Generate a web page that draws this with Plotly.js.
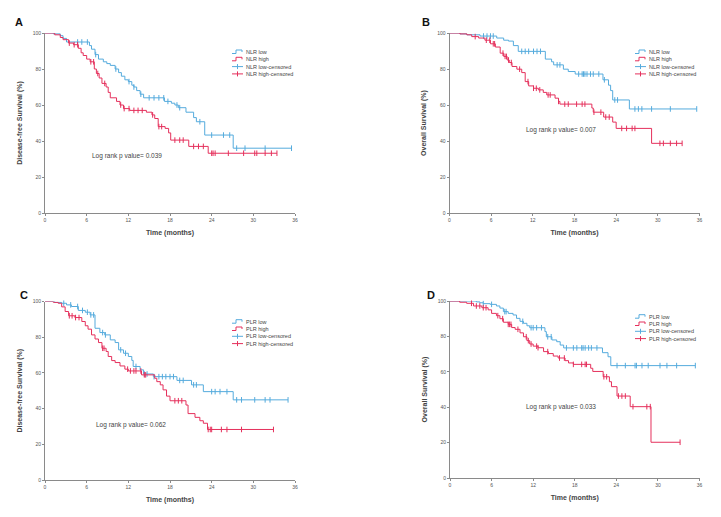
<!DOCTYPE html>
<html><head><meta charset="utf-8">
<script src="https://cdn.plot.ly/plotly-3.0.1.min.js"></script>
<style>html,body{margin:0;padding:0;background:#fff}#chart{width:721px;height:517px}</style>
</head><body><div id="chart"></div>
<script>
// ---------- DATA (months, survival %) ----------
const xTicks = [0, 6, 12, 18, 24, 30, 36];
const yTicks = [0, 20, 40, 60, 80, 100];

// Panel A: Disease-free survival by NLR
const A_low_t  = [0, 1.2, 2.2, 2.6, 3.1, 6.4, 6.7, 7.2, 7.7, 8.4, 8.9, 9.4, 10.1, 10.6, 11.0, 11.5, 12.0, 12.5, 12.8, 13.2, 13.7, 14.2, 17.2, 18.2, 18.7, 19.2, 20.3, 21.4, 21.8, 23.0, 27.1, 35.5];
const A_low_s  = [100, 99.5, 98.5, 97, 95, 93, 91, 88, 85.5, 84, 83, 82, 80, 78, 76, 74, 73, 71, 70, 68, 66, 64, 62, 61, 60, 58.5, 56, 53, 50.7, 43.3, 36, 36];
const A_low_c  = [4.7, 5.3, 6.1, 7.3, 10.2, 12.1, 12.8, 13.8, 15.0, 15.7, 16.4, 17.1, 17.7, 19.0, 19.4, 22.3, 24.0, 25.7, 26.6, 27.6, 28.8, 31.7, 35.5];
const A_high_t = [0, 1.4, 2.2, 2.6, 3.4, 4.1, 4.8, 5.2, 5.5, 6.0, 6.5, 7.1, 7.4, 7.8, 8.2, 8.8, 9.1, 9.4, 10.3, 10.8, 11.3, 12.2, 14.6, 15.4, 15.8, 16.3, 17.3, 17.8, 18.1, 20.7, 23.5, 33.4];
const A_high_s = [100, 99, 97.5, 96.3, 94.4, 93.5, 91.5, 89, 87.5, 85.5, 84, 80, 77.5, 75, 72, 70, 67, 64, 62, 60, 58, 57, 56, 54.5, 52.5, 48, 47, 44.5, 40.5, 37, 33.2, 33.2];
const A_high_c = [3.5, 4.2, 4.7, 6.6, 7.0, 7.6, 8.6, 10.9, 11.4, 12.1, 12.8, 13.4, 14.0, 15.5, 16.4, 16.8, 18.7, 19.4, 19.9, 21.4, 22.1, 22.8, 24.0, 24.2, 24.5, 26.4, 28.6, 30.2, 30.5, 31.7, 32.6, 33.4];

// Panel B: Overall survival by NLR
const B_low_t  = [0, 1.5, 2.5, 4.4, 6.8, 7.8, 8.5, 9.2, 9.9, 13.8, 14.7, 15.0, 16.4, 17.1, 18.1, 22.1, 22.9, 23.2, 23.5, 25.9, 35.6];
const B_low_s  = [100, 99.5, 99, 98.3, 97.2, 96, 95.5, 93, 89.8, 85.5, 84, 82.3, 79.9, 78.6, 77.2, 74, 71, 68, 62.8, 57.8, 57.8];
const B_low_c  = [4.9, 5.4, 5.9, 6.3, 10.4, 10.9, 11.4, 12.1, 12.6, 13.1, 15.5, 15.9, 18.6, 19.1, 19.3, 19.5, 19.8, 20.3, 20.7, 21.5, 22.3, 23.8, 24.2, 26.7, 27.2, 27.7, 29.1, 31.8, 35.6];
const B_high_t = [0, 1.5, 2.5, 3.2, 4.2, 5.1, 5.9, 6.6, 7.3, 7.8, 8.3, 8.6, 9.0, 9.7, 10.4, 10.9, 11.4, 12.1, 12.8, 13.5, 14.0, 15.2, 15.7, 15.9, 20.5, 20.7, 22.2, 23.5, 24.0, 29.1, 33.5];
const B_high_s = [100, 99.5, 99, 98, 97.2, 96, 94, 92.2, 88.8, 87, 85, 83.6, 81.4, 79.9, 78, 73, 70.6, 69.3, 68.4, 67, 65.6, 63.8, 62, 60.5, 58.3, 56, 53.3, 50.5, 47, 38.7, 38.7];
const B_high_c = [3.7, 5.3, 5.8, 6.3, 6.5, 7.7, 8.0, 8.2, 8.5, 8.9, 10.1, 11.3, 12.1, 12.5, 13.0, 14.2, 14.5, 15.7, 16.6, 17.1, 18.3, 19.1, 19.5, 20.8, 21.8, 22.5, 23.0, 24.8, 25.5, 26.3, 26.7, 30.3, 30.8, 31.8, 32.7, 33.5];

// Panel C: Disease-free survival by PLR
const C_low_t  = [0, 1.4, 2.4, 3.1, 3.8, 4.8, 5.8, 6.5, 7.2, 7.9, 8.6, 9.4, 10.1, 10.6, 11.3, 12.0, 12.5, 12.7, 13.7, 14.2, 15.6, 19.0, 21.1, 22.8, 27.1, 35.0];
const C_low_s  = [100, 99.5, 99, 98.1, 97.2, 95, 94, 92.5, 85, 82.6, 81.3, 78.5, 77, 72.9, 71, 69.2, 67, 63.6, 61.7, 59.4, 57.9, 55.8, 53.3, 49.5, 44.9, 44.9];
const C_low_c  = [2.7, 3.7, 4.7, 5.4, 6.1, 6.6, 7.0, 8.3, 8.7, 10.9, 11.6, 13.1, 14.3, 14.7, 15.7, 16.4, 16.9, 17.4, 18.0, 18.5, 19.4, 19.9, 21.4, 21.8, 24.0, 24.5, 25.2, 26.2, 27.6, 28.3, 30.2, 31.7, 32.4, 35.0];
const C_high_t = [0, 1.2, 1.9, 2.4, 2.9, 3.4, 4.3, 5.3, 5.8, 6.2, 6.7, 7.2, 7.7, 8.2, 8.8, 9.1, 9.6, 10.1, 10.8, 11.5, 12.0, 13.9, 15.8, 16.1, 16.6, 17.0, 17.5, 18.0, 20.3, 20.6, 21.6, 22.3, 22.8, 23.4, 32.9];
const C_high_s = [100, 99.5, 99, 97, 94.4, 92, 91, 88.8, 86.4, 84.5, 81.3, 79, 77, 73.8, 72, 69.2, 66.9, 65.8, 63.9, 62.1, 61.1, 58.9, 57, 55.1, 53.3, 50.5, 47, 44.4, 42, 37.2, 35.1, 33.2, 31.8, 28.3, 28.3];
const C_high_c = [3.5, 3.9, 4.4, 4.9, 8.3, 8.5, 11.9, 12.3, 12.8, 13.1, 13.8, 14.3, 14.5, 18.7, 19.2, 19.7, 23.5, 23.8, 24.0, 25.4, 26.2, 28.3, 32.9];

// Panel D: Overall survival by PLR
const D_low_t  = [0, 3.8, 4.3, 4.8, 5.8, 6.7, 7.2, 7.7, 8.4, 9.1, 9.6, 10.1, 10.6, 11.1, 11.5, 13.7, 13.9, 14.7, 15.4, 15.9, 16.4, 22.0, 22.8, 23.2, 35.4];
const D_low_s  = [100, 99.5, 99, 98.5, 98.1, 97.2, 96, 94, 93, 92.1, 90.2, 88.5, 87.4, 86, 84.9, 82.7, 79.8, 78, 77, 75.1, 73.5, 70.8, 68.5, 63.5, 63.5];
const D_low_c  = [4.8, 6.0, 7.9, 8.1, 10.5, 11.7, 12.0, 12.5, 13.2, 14.1, 14.6, 16.8, 17.8, 18.3, 19.0, 19.2, 19.5, 20.0, 20.4, 21.2, 24.1, 25.3, 26.7, 26.9, 27.7, 28.6, 30.3, 31.3, 32.7, 35.4];
const D_high_t = [0, 1.4, 2.4, 3.4, 4.6, 5.5, 6.0, 6.7, 7.2, 7.7, 8.4, 8.9, 9.4, 10.1, 10.6, 11.1, 11.5, 12.0, 12.7, 13.5, 14.2, 14.9, 15.6, 16.6, 17.1, 17.8, 20.3, 20.6, 22.1, 23.0, 23.3, 24.1, 26.0, 29.0, 33.2];
const D_high_s = [100, 99.3, 98.7, 97.2, 96.2, 95, 93, 91.7, 90, 88, 86.8, 85, 84, 82, 79.8, 77.6, 75.7, 74.5, 73.6, 71.4, 70.3, 68.9, 67.8, 66.3, 65, 64.2, 62, 60.2, 57.2, 54.4, 51.6, 46.3, 40.3, 20.2, 20.2];
const D_high_c = [3.1, 3.8, 4.3, 4.8, 5.2, 6.9, 7.6, 8.4, 8.6, 8.8, 9.8, 11.0, 11.3, 11.7, 12.5, 12.7, 14.1, 15.8, 16.5, 17.8, 19.0, 19.5, 19.7, 22.2, 22.6, 24.3, 24.8, 25.3, 26.4, 28.4, 28.9, 33.2];

const panelLetters = ['A', 'B', 'C', 'D'];
const yTitles = ['Disease-free Survival (%)', 'Overall Survival (%)', 'Disease-free Survival (%)', 'Overall Survival (%)'];
const groupNames = ['NLR', 'NLR', 'PLR', 'PLR'];
const pValues = ['0.039', '0.007', '0.062', '0.033'];

// ---------- STYLE / LAYOUT ----------
const W = 721, H = 517;
const BLUE = '#55abdd', RED = '#e5305c';
const FONT = 'Liberation Sans, Arial, Helvetica, sans-serif';
const fx = v => v / W, fy = v => 1 - v / H;

const panels = [
  {low:[A_low_t,A_low_s,A_low_c], high:[A_high_t,A_high_s,A_high_c], xd:[45,295], yd:[33,213], lab:[19,22], pv:[127,156], leg:[232,52]},
  {low:[B_low_t,B_low_s,B_low_c], high:[B_high_t,B_high_s,B_high_c], xd:[449.5,699.5], yd:[33,213], lab:[426,22], pv:[561,130], leg:[635,52]},
  {low:[C_low_t,C_low_s,C_low_c], high:[C_high_t,C_high_s,C_high_c], xd:[45,295], yd:[301.5,480], lab:[24,295], pv:[131,425], leg:[232,321.7]},
  {low:[D_low_t,D_low_s,D_low_c], high:[D_high_t,D_high_s,D_high_c], xd:[450,699.5], yd:[301,478], lab:[431,295], pv:[561,407], leg:[635,316.7]}
];

function stepAt(t, s, c) {
  let v = s[0];
  for (let i = 0; i < t.length; i++) { if (t[i] <= c) v = s[i]; }
  return v;
}

const traces = [];
const layout = {
  width: W, height: H, margin: {l:0, r:0, t:0, b:0},
  paper_bgcolor: '#fff', plot_bgcolor: '#fff',
  showlegend: false, font: {family: FONT, color: '#333'},
  annotations: [], shapes: []
};

panels.forEach((p, i) => {
  const n = i === 0 ? '' : String(i + 1);
  const xa = 'x' + n, ya = 'y' + n;
  [[p.low, BLUE, 'low'], [p.high, RED, 'high']].forEach(([d, col, nm]) => {
    const [t, s, c] = d;
    traces.push({type:'scatter', mode:'lines', x:t, y:s, xaxis:xa, yaxis:ya,
      line:{shape:'hv', color:col, width:1}, name:groupNames[i]+' '+nm, cliponaxis:false, hoverinfo:'skip'});
    traces.push({type:'scatter', mode:'markers', x:c, y:c.map(v => stepAt(t, s, v)), xaxis:xa, yaxis:ya,
      marker:{symbol:'line-ns-open', size:4, color:col, line:{color:col, width:1}}, name:groupNames[i]+' '+nm+'-censored', cliponaxis:false, hoverinfo:'skip'});
  });
  layout['xaxis' + n] = {
    domain:[fx(p.xd[0]), fx(p.xd[1])], range:[0,36], anchor:ya, tickvals:xTicks,
    showline:true, linecolor:'#8a8a8a', linewidth:1, ticks:'outside', ticklen:2, tickcolor:'#8a8a8a',
    tickfont:{size:5, color:'#555'}, showgrid:false, zeroline:false, fixedrange:true,
    title:{text:'<b>Time (months)</b>', font:{size:7, color:'#444'}, standoff:8}
  };
  layout['yaxis' + n] = {
    domain:[fy(p.yd[1]), fy(p.yd[0])], range:[0,100], anchor:xa, tickvals:yTicks,
    showline:true, linecolor:'#8a8a8a', linewidth:1, ticks:'outside', ticklen:2, tickcolor:'#8a8a8a',
    tickfont:{size:5, color:'#555'}, showgrid:false, zeroline:false, fixedrange:true,
    title:{text:'<b>' + yTitles[i] + '</b>', font:{size:7, color:'#444'}, standoff:9}
  };
  layout.annotations.push({xref:'paper', yref:'paper', x:fx(p.lab[0]), y:fy(p.lab[1]), text:'<b>'+panelLetters[i]+'</b>',
    showarrow:false, font:{size:11, color:'#111'}, xanchor:'center', yanchor:'middle'});
  layout.annotations.push({xref:'paper', yref:'paper', x:fx(p.pv[0]), y:fy(p.pv[1]), text:'Log rank p value= ' + pValues[i],
    showarrow:false, font:{size:6.5, color:'#444'}, xanchor:'center', yanchor:'middle'});
  // custom compact legend
  const labels = [groupNames[i]+' low', groupNames[i]+' high', groupNames[i]+' low-censored', groupNames[i]+' high-censored'];
  const cols = [BLUE, RED, BLUE, RED];
  const lx = p.leg[0], ly = p.leg[1], dy = 7.3;
  labels.forEach((lb, k) => {
    const yy = ly + k * dy;
    layout.annotations.push({xref:'paper', yref:'paper', x:fx(lx + 12), y:fy(yy), text:lb, showarrow:false,
      font:{size:5.5, color:'#444'}, xanchor:'left', yanchor:'middle'});
    if (k < 2) {
      const path = 'M' + fx(lx) + ',' + fy(yy + 1.5) + ' H' + fx(lx + 4) + ' V' + fy(yy - 2) + ' H' + fx(lx + 10) + ' V' + fy(yy);
      layout.shapes.push({type:'path', xref:'paper', yref:'paper', path:path, line:{color:cols[k], width:1}});
    } else {
      layout.shapes.push({type:'line', xref:'paper', yref:'paper', x0:fx(lx), x1:fx(lx + 11), y0:fy(yy), y1:fy(yy), line:{color:cols[k], width:1}});
      layout.shapes.push({type:'line', xref:'paper', yref:'paper', x0:fx(lx + 5.5), x1:fx(lx + 5.5), y0:fy(yy - 2.5), y1:fy(yy + 2.5), line:{color:cols[k], width:1}});
    }
  });
});

Plotly.newPlot('chart', traces, layout, {displayModeBar:false, staticPlot:true});
</script>
</body></html>
